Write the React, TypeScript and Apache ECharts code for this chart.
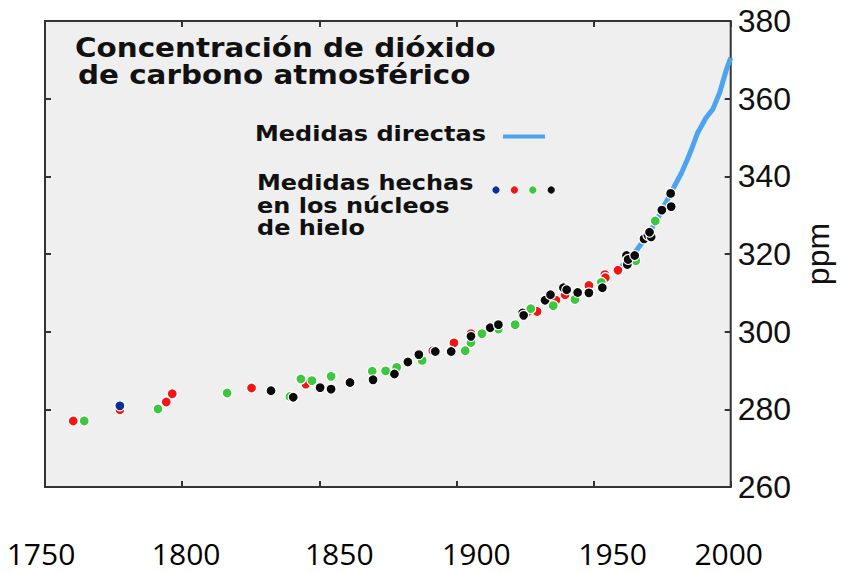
import React, { useEffect, useRef } from "react";
import * as echarts from "echarts";

// Axis ticks
const xTicks = [1750, 1800, 1850, 1900, 1950, 2000];
const yTicks = [260, 280, 300, 320, 340, 360, 380];

// Texts
const titleLines = ["Concentración de dióxido", "de carbono atmosférico"];
const legendDirect = "Medidas directas";
const legendIceLines = ["Medidas hechas", "en los núcleos", "de hielo"];
const yAxisName = "ppm";

// Direct measurements (blue line): [year, ppm]
const directPoints: [number, number][] = [
  [1958.9, 316.0], [1962, 318.0], [1965, 320.3], [1968, 323.2], [1971, 326.3],
  [1974, 330.0], [1976, 332.8], [1979.5, 337.5], [1982, 340.8], [1984, 344.0],
  [1986, 347.5], [1988, 351.3], [1990, 353.8], [1991, 355.1], [1993.5, 357.3],
  [1996, 361.6], [1998.3, 367.2], [2000, 370.5],
];

// Ice core measurements: [year, ppm]
const bluePoints: [number, number][] = [[1777.3, 280.9]];

const redPoints: [number, number][] = [
  [1760.3, 277.0], [1777.3, 279.9], [1794.2, 281.9], [1796.4, 284.0], [1825.3, 285.5],
  [1845.1, 286.5], [1891.4, 295.1], [1899.1, 297.1], [1905.3, 299.5], [1926.2, 305.2],
  [1929.4, 305.2], [1936.3, 308.1], [1939.6, 309.5], [1948.3, 311.9], [1954.1, 314.7],
  [1954.3, 313.9], [1958.9, 315.8],
];

const greenPoints: [number, number][] = [
  [1764.3, 277.0], [1791.2, 280.1], [1816.4, 284.2], [1839.3, 283.3], [1843.3, 287.8],
  [1847.3, 287.4], [1854.3, 288.5], [1869.3, 289.8], [1874.2, 289.9], [1878.2, 290.8],
  [1887.5, 292.6], [1903.2, 295.1], [1905.3, 297.2], [1909.3, 299.5], [1915.3, 300.7],
  [1921.4, 301.8], [1927.1, 305.9], [1935.3, 306.7], [1943.2, 308.3], [1952.8, 312.7],
  [1965.4, 318.3], [1972.5, 328.5],
];

const blackPoints: [number, number][] = [
  [1832.4, 284.8], [1840.5, 283.1], [1850.3, 285.6], [1854.3, 285.2], [1861.2, 286.9],
  [1869.6, 287.6], [1877.4, 289.1], [1882.3, 292.2], [1886.3, 294.1], [1892.3, 294.9],
  [1898.1, 294.9], [1905.3, 298.8], [1912.3, 301.0], [1915.3, 301.8], [1924.1, 304.8],
  [1924.5, 304.2], [1932.3, 308.1], [1934.3, 309.5], [1939.0, 311.3], [1940.2, 310.8],
  [1944.2, 310.1], [1948.3, 310.0], [1953.2, 311.3], [1962.0, 319.6], [1962.3, 317.3],
  [1962.6, 318.6], [1965.0, 319.6], [1968.4, 323.9], [1969.8, 324.8], [1971.0, 324.4],
  [1970.4, 325.6], [1974.9, 331.3], [1978.3, 332.2], [1978.1, 335.6],
];

const COLORS = {
  line: "#4ba3f2",
  blue: "#0b2f9a",
  red: "#f51414",
  green: "#3cc83c",
  black: "#0a0a0a",
  frame: "#333333",
  bg: "#efefef",
  text: "#111111",
};

// Style: horizontal nudge (px) of each bottom label, as in the reference overlay
const xLabelNudge = [-4, 4, 20, 20, 19, -2];

export default function App() {
  const ref = useRef<HTMLDivElement>(null);

  useEffect(() => {
    document.body.style.margin = "0";
    if (!ref.current) return;
    const chart = echarts.init(ref.current, undefined, { renderer: "svg" });

    const scatter = (name: string, data: [number, number][], color: string) => ({
      name,
      type: "scatter",
      data,
      symbol: "circle",
      symbolSize: 10,
      itemStyle: { color, borderColor: "#ffffff", borderWidth: 1.2, opacity: 1 },
      xAxisIndex: 0,
      yAxisIndex: 0,
      z: 3,
    });

    const titleFont = 'bold 26px "DejaVu Sans"';
    const legendFont = 'bold 22px "DejaVu Sans"';

    const graphic: any[] = [
      {
        type: "text", x: 75, y: 48.5, scaleX: 1.13, z: 100,
        style: { text: titleLines[0], font: titleFont, fill: COLORS.text, textVerticalAlign: "middle" },
      },
      {
        type: "text", x: 78, y: 75.5, scaleX: 1.13, z: 100,
        style: { text: titleLines[1], font: titleFont, fill: COLORS.text, textVerticalAlign: "middle" },
      },
      {
        type: "text", x: 255, y: 133, scaleX: 1.09, z: 100,
        style: { text: legendDirect, font: legendFont, fill: COLORS.text, textVerticalAlign: "middle" },
      },
      {
        type: "line", z: 100,
        shape: { x1: 503, y1: 136.5, x2: 545, y2: 136.5 },
        style: { stroke: COLORS.line, lineWidth: 4 },
      },
      ...legendIceLines.map((t, i) => ({
        type: "text", x: 257, y: 182.2 + i * 22.8, scaleX: 1.09, z: 100,
        style: { text: t, font: legendFont, fill: COLORS.text, textVerticalAlign: "middle" },
      })),
      ...[COLORS.blue, COLORS.red, COLORS.green, COLORS.black].map((c, i) => ({
        type: "circle", z: 100,
        shape: { cx: 496 + i * 18.4, cy: 190, r: 3.6 },
        style: { fill: c },
      })),
    ];

    const tickStyle = { show: true, inside: true, length: 6, lineStyle: { color: COLORS.frame, width: 2 } };
    const xMin = xTicks[0];
    const xMax = xTicks[xTicks.length - 1];
    const xInt = xTicks[1] - xTicks[0];
    const yMin = yTicks[0];
    const yMax = yTicks[yTicks.length - 1];
    const yInt = yTicks[1] - yTicks[0];

    const xLabelFont = { fontFamily: '"Liberation Sans Narrow", "Open Sans", sans-serif', fontSize: 30, color: "#000" };
    const rich: Record<string, any> = {};
    xLabelNudge.forEach((d, i) => {
      rich["s" + i] = {
        ...xLabelFont,
        padding: d >= 0 ? [0, 0, 0, 2 * d] : [0, -2 * d, 0, 0],
      };
    });

    chart.setOption({
      animation: false,
      grid: {
        left: 45, right: 109, top: 21, bottom: 86,
        show: true, backgroundColor: COLORS.bg, borderColor: COLORS.frame, borderWidth: 2,
      },
      xAxis: [
        {
          type: "value", position: "bottom", min: xMin, max: xMax, interval: xInt,
          axisLine: { show: false }, axisTick: tickStyle, splitLine: { show: false },
          axisLabel: {
            show: true, margin: 51, ...xLabelFont,
            formatter: (v: number) => {
              const i = xTicks.indexOf(v);
              return i >= 0 ? `{s${i}|${v}}` : String(v);
            },
            rich,
          },
        },
        {
          type: "value", position: "top", min: xMin, max: xMax, interval: xInt,
          axisLine: { show: false }, axisTick: tickStyle, splitLine: { show: false },
          axisLabel: { show: false },
        },
      ],
      yAxis: [
        {
          type: "value", position: "right", min: yMin, max: yMax, interval: yInt,
          axisLine: { show: false }, axisTick: tickStyle, splitLine: { show: false },
          axisLabel: {
            show: true, margin: 7, color: COLORS.text,
            fontFamily: '"Liberation Sans", Arial, sans-serif', fontSize: 32,
          },
          name: yAxisName, nameLocation: "middle", nameRotate: 90, nameGap: 68,
          nameTextStyle: { color: COLORS.text, fontFamily: '"Liberation Sans", Arial, sans-serif', fontSize: 32 },
        },
        {
          type: "value", position: "left", min: yMin, max: yMax, interval: yInt,
          axisLine: { show: false }, axisTick: tickStyle, splitLine: { show: false },
          axisLabel: { show: false },
        },
      ],
      series: [
        {
          name: legendDirect, type: "line", data: directPoints, showSymbol: false, smooth: false,
          lineStyle: { color: COLORS.line, width: 5 }, xAxisIndex: 0, yAxisIndex: 0, z: 2,
        },
        scatter("red", redPoints, COLORS.red),
        scatter("green", greenPoints, COLORS.green),
        scatter("black", blackPoints, COLORS.black),
        scatter("blue", bluePoints, COLORS.blue),
      ],
      graphic,
    });

    return () => chart.dispose();
  }, []);

  return <div ref={ref} style={{ width: 842, height: 573 }} />;
}
